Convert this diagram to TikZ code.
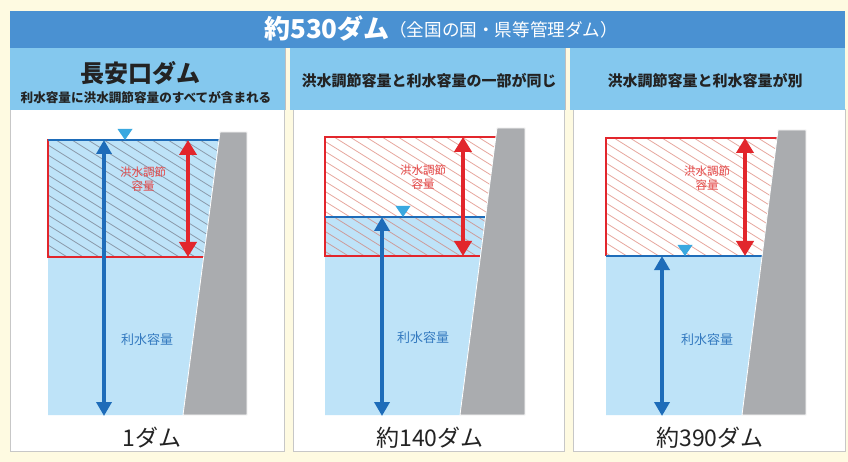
\documentclass[tikz,border=0pt]{standalone}
\usepackage{fontspec}
\setmainfont{Noto Sans CJK JP}
\usetikzlibrary{arrows.meta}
\definecolor{cream}{RGB}{254,250,225}
\definecolor{titlebl}{RGB}{74,145,210}
\definecolor{subbl}{RGB}{132,200,238}
\definecolor{water}{RGB}{190,227,248}
\definecolor{damgray}{RGB}{170,172,175}
\definecolor{lineblue}{RGB}{30,108,185}
\definecolor{redc}{RGB}{226,38,44}
\definecolor{tri}{RGB}{58,168,224}
\definecolor{txt}{RGB}{35,35,35}
\definecolor{labred}{RGB}{228,72,72}
\definecolor{labblue}{RGB}{52,122,192}
\definecolor{hatchgray}{RGB}{140,156,172}
\definecolor{hatchred}{RGB}{215,110,95}
\tikzset{
  panelbox/.style={fill=white,draw=black!22,line width=1pt},
  waterfill/.style={fill=water},
  damfill/.style={fill=damgray,draw=white,line width=0.8pt},
  redbox/.style={draw=redc,line width=1.2pt},
  wline/.style={draw=lineblue,line width=2.6pt},
  hatchA/.style={draw=hatchgray,line width=0.8pt},
  hatchB/.style={draw=hatchred,line width=0.8pt,opacity=0.6},
  bluearrow/.style={draw=lineblue,line width=4pt,{Triangle[width=15pt,length=14pt]}-{Triangle[width=15pt,length=14pt]}},
  redarrow/.style={draw=redc,line width=4pt,{Triangle[width=17pt,length=15pt]}-{Triangle[width=17pt,length=15pt]}},
  trimark/.style={fill=tri},
  redlab/.style={text=labred,font=\fontsize{11.5}{14}\selectfont,align=center,inner sep=0pt},
  bluelab/.style={text=labblue,font=\fontsize{13}{15}\selectfont,inner sep=0pt},
  countlab/.style={text=txt,font=\fontsize{23}{26}\selectfont,inner sep=0pt},
  headlab/.style={text=txt,font=\bfseries\fontsize{15}{18}\selectfont,inner sep=0pt}
}
\begin{document}
\begin{tikzpicture}[x=1pt,y=-1pt]
\useasboundingbox (0,0) rectangle (848,462);
\fill[cream] (0,0) rectangle (848,462);

% panels
\path[panelbox] (10,110) rectangle (284,451);
\path[panelbox] (293,110) rectangle (564,451);
\path[panelbox] (573,110) rectangle (845,451);

% header
\fill[titlebl] (10,11) rectangle (845,48);
\fill[subbl] (10,48) rectangle (845,110);
\fill[cream] (285,48) rectangle (290,110);
\fill[cream] (565,48) rectangle (570,110);
\draw[black!25,line width=0.8pt] (285,48) -- (285,110);
\draw[black!25,line width=0.8pt] (565,48) -- (565,110);

\node[text=white,inner sep=0pt,anchor=base east] (title) at (390,39)
  {\bfseries\fontsize{26}{28}\selectfont 約530ダム};
\node[text=white,inner sep=0pt,anchor=base west] (titlesub) at (389,37)
  {\fontsize{17.6}{20}\selectfont （全国の国・県等管理ダム）};

\node[text=txt,inner sep=0pt,font=\bfseries\fontsize{24}{26}\selectfont] (h1) at (140,73) {長安口ダム};
\node[text=txt,inner sep=0pt,font=\bfseries\fontsize{12.6}{14}\selectfont] (h1s) at (146,98) {利水容量に洪水調節容量のすべてが含まれる};
\node[headlab] (h2) at (429,81) {洪水調節容量と利水容量の一部が同じ};
\node[headlab] (h3) at (705,81) {洪水調節容量と利水容量が別};

% ===== panel 1 =====
\fill[water] (48,140) -- (219,140) -- (183,415) -- (48,415) -- cycle;
\begin{scope}
  \clip (48,140) -- (219,140) -- (203.7,257) -- (48,257) -- cycle;
  \foreach \k in {-14,...,13} \draw[hatchA] (40,140+\k*10) -- ++(260,162.5);
\end{scope}
\draw[redbox] (219,140) -- (48,140) -- (48,257) -- (203.7,257);
\draw[wline] (48,140) -- (219,140);
\fill[damfill] (220,132) -- (247,132) -- (247,415) -- (183,415) -- cycle;
\coordinate (b1t) at (104,140); \coordinate (b1b) at (104,416);
\coordinate (r1t) at (188,140); \coordinate (r1b) at (188,257);
\draw[bluearrow] (b1t) -- (b1b);
\draw[redarrow] (r1t) -- (r1b);
\fill[trimark] (117.5,129) -- (132.5,129) -- (125,140) -- cycle;
\node[redlab] (f1) at (143,179) {洪水調節\\容量};
\node[bluelab] (u1) at (147,340) {利水容量};
\node[countlab] (c1) at (152,438) {1ダム};

% ===== panel 2 =====
\fill[water] (325,217) -- (485.5,217) -- (460,415) -- (325,415) -- cycle;
\begin{scope}
  \clip (325,137) -- (495.8,137) -- (480.5,256) -- (325,256) -- cycle;
  \foreach \k in {-14,...,13} \draw[hatchB] (318,137+\k*10) -- ++(260,162.5);
\end{scope}
\draw[redbox] (495.8,137) -- (325,137) -- (325,256) -- (480.5,256);
\draw[wline] (325,217) -- (485.5,217);
\fill[damfill] (497,128) -- (525,128) -- (525,415) -- (460,415) -- cycle;
\coordinate (b2t) at (382,217); \coordinate (b2b) at (382,416);
\coordinate (r2t) at (463,137); \coordinate (r2b) at (463,256);
\draw[bluearrow] (b2t) -- (b2b);
\draw[redarrow] (r2t) -- (r2b);
\fill[trimark] (395.5,206) -- (410.5,206) -- (403,217) -- cycle;
\node[redlab] (f2) at (423,177) {洪水調節\\容量};
\node[bluelab] (u2) at (423,338) {利水容量};
\node[countlab] (c2) at (430,438) {約140ダム};

% ===== panel 3 =====
\fill[water] (606,256) -- (762,256) -- (742,415) -- (606,415) -- cycle;
\begin{scope}
  \clip (606,138) -- (777,138) -- (762,256) -- (606,256) -- cycle;
  \foreach \k in {-14,...,13} \draw[hatchB] (598,138+\k*10) -- ++(260,162.5);
\end{scope}
\draw[redbox] (777,138) -- (606,138) -- (606,256);
\draw[wline] (606,256) -- (762,256);
\fill[damfill] (778,130) -- (806,130) -- (806,415) -- (742,415) -- cycle;
\coordinate (b3t) at (662,256); \coordinate (b3b) at (662,416);
\coordinate (r3t) at (745,138); \coordinate (r3b) at (745,256);
\draw[bluearrow] (b3t) -- (b3b);
\draw[redarrow] (r3t) -- (r3b);
\fill[trimark] (677.5,245) -- (692.5,245) -- (685,256) -- cycle;
\node[redlab] (f3) at (707,178) {洪水調節\\容量};
\node[bluelab] (u3) at (707,340) {利水容量};
\node[countlab] (c3) at (710,438) {約390ダム};
\end{tikzpicture}
\end{document}
